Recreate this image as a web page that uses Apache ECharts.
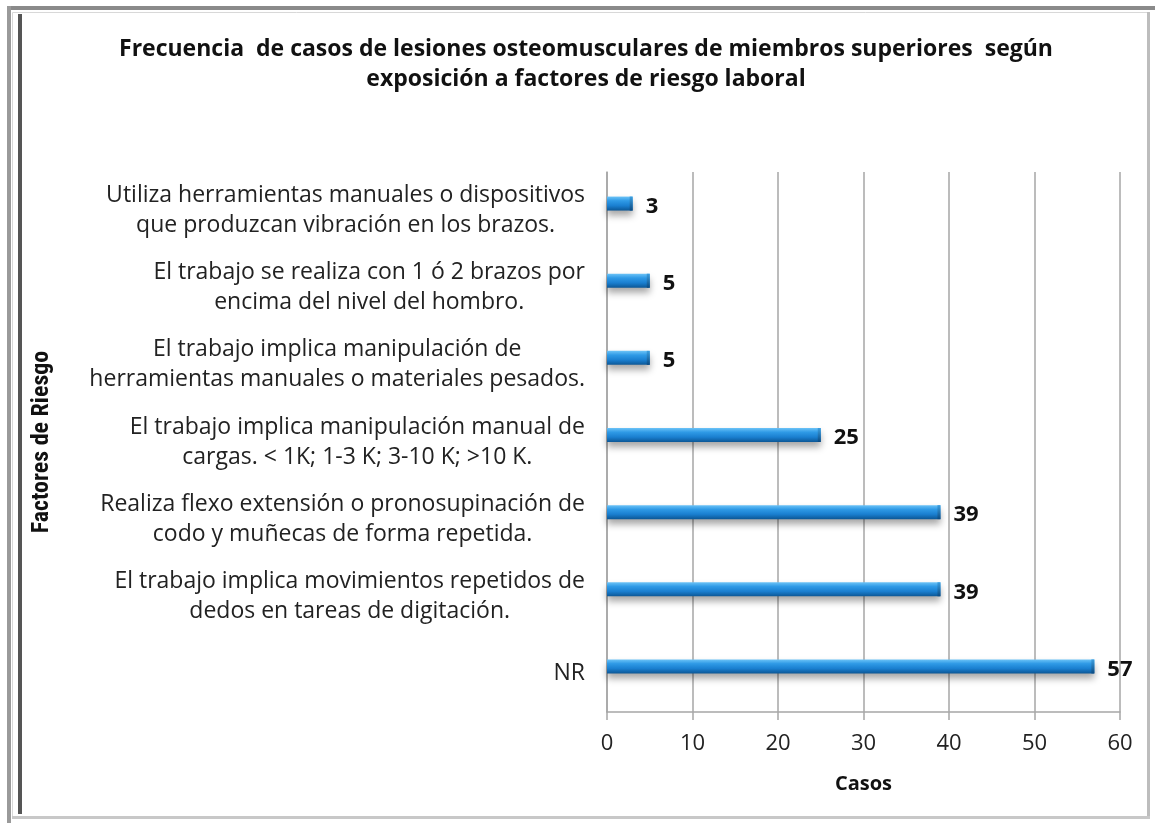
<!DOCTYPE html>
<html>
<head>
<meta charset="utf-8">
<script src="https://cdn.jsdelivr.net/npm/echarts@6/dist/echarts.min.js"></script>
<style>
html,body{margin:0;padding:0;background:#fff;}
#c{width:1155px;height:823px;}
</style>
</head>
<body>
<div id="c"></div>
<script>
// Data (top to bottom as shown)
var categories = [
  'Utiliza herramientas manuales o dispositivos\nque produzcan vibración en los brazos.',
  'El trabajo se realiza con 1 ó 2 brazos por\nencima del nivel del hombro.',
  'El trabajo implica manipulación de\nherramientas manuales o materiales pesados.',
  'El trabajo implica manipulación manual de\ncargas. < 1K; 1-3 K; 3-10 K; >10 K.',
  'Realiza flexo extensión o pronosupinación de\ncodo y muñecas de forma repetida.',
  'El trabajo implica movimientos repetidos de\ndedos en tareas de digitación.',
  'NR'
];
var casos = [3, 5, 5, 25, 39, 39, 57];
var xTicks = [0, 10, 20, 30, 40, 50, 60];

var titleText = 'Frecuencia  de casos de lesiones osteomusculares de miembros superiores  según\nexposición a factores de riesgo laboral';
var xName = 'Casos';
var yName = 'Factores de Riesgo';

var chart = echarts.init(document.getElementById('c'), null, {renderer: 'canvas'});

var barGrad = new echarts.graphic.LinearGradient(0, 0, 0, 1, [
  {offset: 0, color: '#6cc3f7'},
  {offset: 0.3, color: '#2f9ae6'},
  {offset: 0.65, color: '#1a7fd0'},
  {offset: 1, color: '#0c5796'}
]);
var capGrad = new echarts.graphic.LinearGradient(0, 0, 0, 1, [
  {offset: 0, color: '#3d9fe0'},
  {offset: 1, color: '#0a4a82'}
]);

var option = {
  backgroundColor: '#ffffff',
  animation: false,
  title: {
    text: titleText,
    left: 581,
    top: 29,
    textAlign: 'center',
    textStyle: {
      fontFamily: 'Open Sans',
      fontWeight: 'bold',
      fontSize: 23,
      lineHeight: 30,
      color: '#111'
    }
  },
  grid: {left: 607, right: 35, top: 172, bottom: 111, containLabel: false},
  xAxis: {
    type: 'value',
    min: 0, max: 60, interval: 10,
    name: xName,
    nameLocation: 'middle',
    nameGap: 62,
    nameTextStyle: {fontFamily: 'Open Sans', fontWeight: 'bold', fontSize: 20, color: '#111'},
    axisLine: {show: true, lineStyle: {color: '#a6a6a6', width: 1.5}},
    axisTick: {show: true, length: 8, lineStyle: {color: '#a6a6a6', width: 1.5}},
    splitLine: {show: true, lineStyle: {color: '#a6a6a6', width: 1.5}},
    axisLabel: {
      margin: 21,
      fontFamily: 'Open Sans', fontSize: 22, color: '#222',
      formatter: function (v) { return xTicks.indexOf(v) >= 0 ? String(v) : ''; }
    }
  },
  yAxis: {
    type: 'category',
    inverse: true,
    data: categories,
    name: yName,
    nameLocation: 'middle',
    nameRotate: 90,
    nameGap: 553,
    nameTextStyle: {fontFamily: 'Liberation Sans Narrow, Roboto Condensed, Liberation Sans', fontWeight: 'bold', fontSize: 24, color: '#111'},
    axisLine: {show: true, lineStyle: {color: '#a6a6a6', width: 1.5}},
    axisTick: {show: false},
    splitLine: {show: false},
    axisLabel: {
      margin: 22,
      align: 'right',
      formatter: function (v) {
        return v.split('\n').map(function (l) { return '{c|' + l + '}'; }).join('\n');
      },
      rich: {
        c: {align: 'center', fontFamily: 'Open Sans', fontSize: 23, lineHeight: 30, color: '#222'}
      }
    }
  },
  series: [{
    type: 'custom',
    encode: {x: 0, y: 1},
    data: casos.map(function (v, i) { return [v, i]; }),
    renderItem: function (params, api) {
      var v = api.value(0);
      var ci = api.value(1);
      var s = api.coord([0, ci]);
      var e = api.coord([v, ci]);
      var h = 14;
      var cy = s[1] - 7;
      var w = e[0] - s[0];
      return {
        type: 'group',
        children: [
          {
            type: 'rect',
            shape: {x: s[0], y: cy - h / 2, width: w, height: h},
            style: {fill: barGrad, shadowColor: 'rgba(0,0,0,0.35)', shadowBlur: 7, shadowOffsetY: 5}
          },
          {
            type: 'rect',
            shape: {x: e[0] - 3, y: cy - h / 2, width: 3, height: h},
            style: {fill: capGrad}
          },
          {
            type: 'text',
            style: {
              text: String(v),
              x: e[0] + 13,
              y: cy + 3,
              verticalAlign: 'middle',
              align: 'left',
              font: 'bold 22px "Open Sans"',
              fill: '#111'
            }
          }
        ]
      };
    }
  }],
  graphic: [
    {type: 'rect', shape: {x: 8, y: 6, width: 1147, height: 4}, style: {fill: '#8a8a8a'}, silent: true},
    {type: 'rect', shape: {x: 7, y: 6, width: 4, height: 817}, style: {fill: '#9a9a9a'}, silent: true},
    {type: 'rect', shape: {x: 12.5, y: 12.5, width: 1137, height: 805}, style: {fill: 'none', stroke: '#d8d8d8', lineWidth: 1}, silent: true},
    {type: 'rect', shape: {x: 18, y: 14, width: 4, height: 800}, style: {fill: '#555555'}, silent: true},
    {type: 'rect', shape: {x: 1147, y: 12, width: 3, height: 806}, style: {fill: '#bdbdbd'}, silent: true},
    {type: 'rect', shape: {x: 12, y: 816, width: 1138, height: 3}, style: {fill: '#c8c8c8'}, silent: true}
  ]
};
chart.setOption(option);
</script>
</body>
</html>
